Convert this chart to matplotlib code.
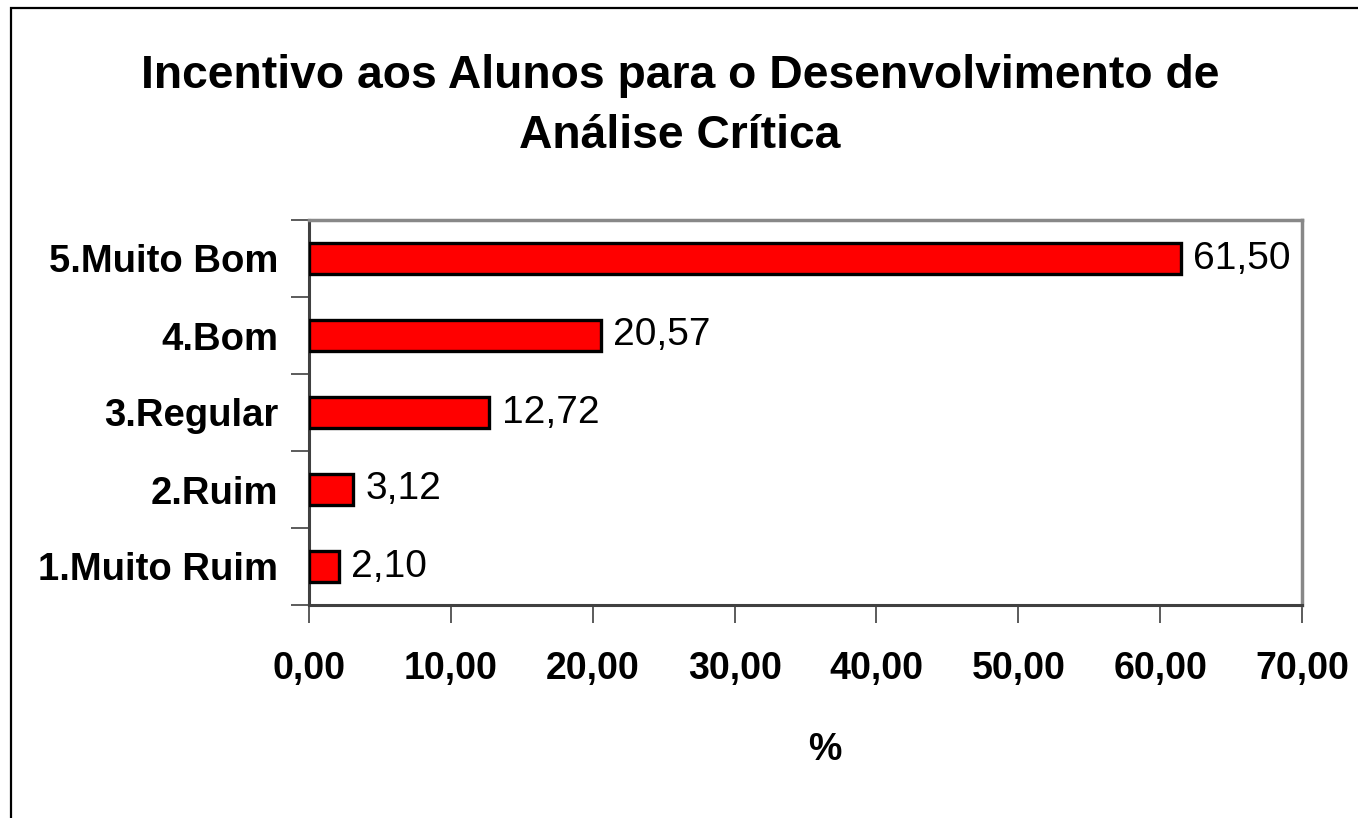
import matplotlib.pyplot as plt
from matplotlib.patches import Rectangle

plt.rcParams['font.family'] = ['Liberation Sans', 'DejaVu Sans']

categorias = ['1.Muito Ruim', '2.Ruim', '3.Regular', '4.Bom', '5.Muito Bom']
valores = [2.10, 3.12, 12.72, 20.57, 61.50]
xticks = [0, 10, 20, 30, 40, 50, 60, 70]

W, H = 1358, 818
fig = plt.figure(figsize=(W / 100, H / 100), dpi=100)
ax = fig.add_axes([309 / W, 1 - 605 / H, (1302 - 309) / W, (605 - 220) / H])

# moldura do gráfico (cortada à direita e embaixo)
fig.patches.append(Rectangle((11 / W, -0.1), 1.2, 1 - 8 / H + 0.1, transform=fig.transFigure,
                             fill=False, edgecolor='black', linewidth=1.6))

pos = range(len(categorias))
ax.barh(pos, valores, height=0.4, color='#ff0000', edgecolor='black', linewidth=2.4, zorder=3)
for p, v in zip(pos, valores):
    ax.text(v + 0.85, p, f'{v:.2f}'.replace('.', ','), va='center', ha='left', fontsize=28)

ax.set_xlim(0, 70)
ax.set_ylim(-0.5, 4.5)
ax.set_xticks(xticks)
ax.set_xticklabels([f'{t:.2f}'.replace('.', ',') for t in xticks], fontsize=27, fontweight='bold')
ax.set_yticks([i + 0.5 for i in range(-1, 5)])
ax.set_yticklabels([])
ax.set_yticks(list(pos), minor=True)
ax.set_yticklabels(categorias, minor=True, fontsize=27.5, fontweight='bold')
ax.tick_params(axis='y', which='minor', length=0, pad=22)
ax.tick_params(axis='y', which='major', length=13, width=1.2, color='#404040', direction='out')
ax.tick_params(axis='x', length=13, width=1.2, color='#404040', direction='out', pad=20)

for s in ['top', 'right']:
    ax.spines[s].set_color('#888888')
    ax.spines[s].set_linewidth(2.5)
for s in ['left', 'bottom']:
    ax.spines[s].set_color('#404040')
    ax.spines[s].set_linewidth(2.2)

ax.set_xlabel('%', fontsize=27, fontweight='bold')
ax.xaxis.set_label_coords((825 - 309) / 993, -(750 - 605) / 385)
ax.xaxis.label.set_verticalalignment('center')

fig.text(680 / W, 1 - 106 / H, 'Incentivo aos Alunos para o Desenvolvimento de\nAnálise Crítica',
         ha='center', va='center', fontsize=33.3, fontweight='bold', linespacing=1.5)

fig.savefig('out.png', dpi=100)
